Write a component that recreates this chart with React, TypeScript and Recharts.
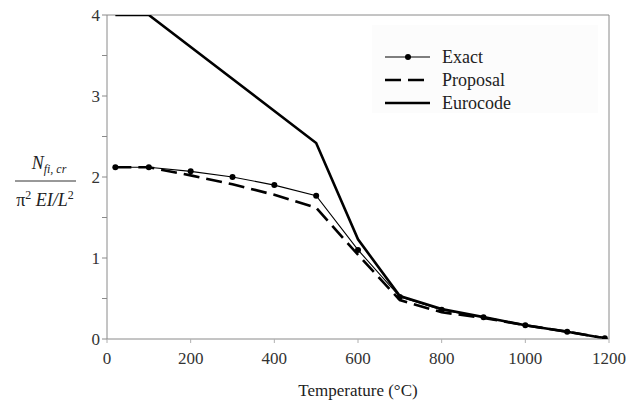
import { Label, Legend, Line, LineChart, ReferenceLine, XAxis, YAxis } from "recharts";

const temps = [20, 100, 200, 300, 400, 500, 600, 700, 800, 900, 1000, 1100, 1190];
const exact = [2.12, 2.12, 2.07, 2.0, 1.9, 1.77, 1.1, 0.52, 0.36, 0.27, 0.17, 0.09, 0.01];
const proposal = [2.12, 2.12, 2.02, 1.91, 1.78, 1.62, 1.04, 0.48, 0.33, 0.26, 0.17, 0.09, 0.01];

const euroTemps = [20, 100, 500, 600, 700, 800, 900, 1000, 1100, 1190];
const eurocode = [4, 4, 2.42, 1.23, 0.53, 0.37, 0.27, 0.17, 0.09, 0.01];

const xTicks = [0, 200, 400, 600, 800, 1000, 1200];
const yTicks = [0, 0.5, 1, 1.5, 2, 2.5, 3, 3.5, 4];

const exactRows = temps.map((t, i) => ({ t, v: exact[i] }));
const proposalRows = temps.map((t, i) => ({ t, v: proposal[i] }));
const euroRows = euroTemps.map((t, i) => ({ t, v: eurocode[i] }));

const FONT = "Liberation Serif, DejaVu Serif, serif";
const AXIS = "#8a8a8a";

function LegendBox() {
  return (
    <svg width={230} height={90} fontFamily={FONT}>
      <rect x={0} y={0} width={226} height={88} fill="#fcfcfc" />
      <line x1={13} x2={58} y1={32} y2={32} stroke="#000" strokeWidth={1.2} />
      <circle cx={36} cy={32} r={3} fill="#000" />
      <text x={70} y={38} fontSize={18} fill="#222" fontFamily={FONT}>Exact</text>
      <line x1={13} x2={58} y1={55} y2={55} stroke="#000" strokeWidth={2.5} strokeDasharray="16 7" />
      <text x={70} y={61} fontSize={18} fill="#222" fontFamily={FONT}>Proposal</text>
      <line x1={13} x2={58} y1={78} y2={78} stroke="#000" strokeWidth={2.5} />
      <text x={70} y={84} fontSize={18} fill="#222" fontFamily={FONT}>Eurocode</text>
    </svg>
  );
}

function YLabel() {
  return (
    <g fill="#222" fontFamily={FONT}>
      <text x={49} y={169} textAnchor="middle" fontSize={18} fontFamily={FONT}>
        <tspan fontStyle="italic">N</tspan>
        <tspan fontStyle="italic" fontSize={12} dy={4}>fi, cr</tspan>
      </text>
      <line x1={15} x2={76} y1={181} y2={181} stroke="#333" strokeWidth={1} />
      <text x={45} y={206} textAnchor="middle" fontSize={18} fontFamily={FONT}>
        <tspan>π</tspan>
        <tspan fontSize={12} dy={-7}>2</tspan>
        <tspan fontStyle="italic" dy={7}> EI/L</tspan>
        <tspan fontSize={12} dy={-7}>2</tspan>
      </text>
    </g>
  );
}

export default function App() {
  return (
    <div style={{ position: "absolute", left: 0, top: 0, background: "#fff", fontFamily: FONT }}>
      <LineChart width={643} height={401} margin={{ top: 15, right: 34, left: 0, bottom: 0 }}>
        <XAxis
          dataKey="t"
          type="number"
          domain={[0, 1200]}
          ticks={xTicks}
          allowDuplicatedCategory={false}
          stroke={AXIS}
          tickLine={{ stroke: "#b0b0b0" }}
          tickSize={4}
          tickMargin={9}
          height={62}
          tick={{ fill: "#333", fontSize: 17, fontFamily: FONT }}
        >
          <Label
            value="Temperature (°C)"
            position="insideBottom"
            offset={5}
            fontFamily={FONT}
            style={{ fill: "#222", fontSize: 17, fontFamily: FONT }}
          />
        </XAxis>
        <YAxis
          type="number"
          domain={[0, 4]}
          ticks={yTicks}
          allowDataOverflow
          stroke={AXIS}
          tickSize={5}
          tickMargin={2}
          width={107}
          tickFormatter={(v: number) => (Number.isInteger(v) ? String(v) : "")}
          tick={{ fill: "#333", fontSize: 17, fontFamily: FONT }}
        >
          <Label content={() => <YLabel />} />
        </YAxis>
        <ReferenceLine y={4} stroke={AXIS} strokeWidth={1} />
        <ReferenceLine x={1200} stroke={AXIS} strokeWidth={1} />
        <Legend
          layout="horizontal"
          verticalAlign="middle"
          align="center"
          wrapperStyle={{ position: "absolute", left: 372, top: 25, width: 230, height: 90 }}
          content={() => <LegendBox />}
        />
        <Line
          data={euroRows}
          dataKey="v"
          stroke="#000"
          strokeWidth={2.6}
          dot={false}
          isAnimationActive={false}
          legendType="none"
        />
        <Line
          data={proposalRows}
          dataKey="v"
          stroke="#000"
          strokeWidth={2.6}
          strokeDasharray="16 7"
          dot={false}
          isAnimationActive={false}
          legendType="none"
        />
        <Line
          data={exactRows}
          dataKey="v"
          stroke="#000"
          strokeWidth={1.1}
          dot={{ r: 3, fill: "#000", stroke: "#000", strokeWidth: 0 }}
          isAnimationActive={false}
          legendType="none"
        />
      </LineChart>
    </div>
  );
}
